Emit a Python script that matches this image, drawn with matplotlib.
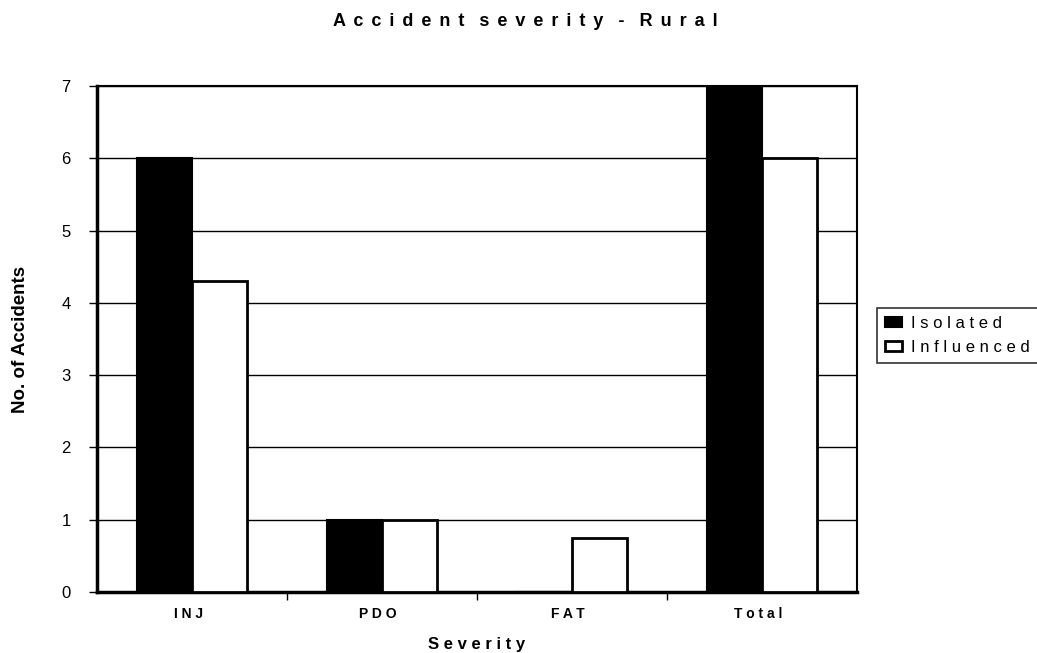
import numpy as np
import matplotlib
matplotlib.use('Agg')
from matplotlib import pyplot as plt


def spaced(text, gap=' ', word_gap='   '):
    # put a gap between letters, a wider one between words
    return word_gap.join(gap.join(word) for word in text.split(' '))


categories = ['INJ', 'PDO', 'FAT', 'Total']
isolated = [6, 1, 0, 7]
influenced = [4.3, 1, 0.75, 6]

plt.rcParams['font.family'] = ['Liberation Sans', 'DejaVu Sans']

fig = plt.figure(figsize=(10.37, 6.53), dpi=100)
ax = fig.add_axes([97 / 1037, 1 - 592 / 653, 760 / 1037, 506 / 653])

x = np.arange(len(categories))
w = 0.29
ax.bar(x - w / 2, isolated, w, color='black', edgecolor='black',
       linewidth=1.5, label=spaced('Isolated'), zorder=3)
ax.bar(x + w / 2, influenced, w, color='white', edgecolor='black',
       linewidth=2, label=spaced('Influenced'), zorder=3)

ax.set_xlim(-0.5, 3.5)
ax.set_ylim(0, 7)
ax.set_yticks(range(0, 8))
ax.yaxis.grid(True, color='black', linewidth=1.0, zorder=0)
ax.set_xticks(x)
# trailing spaces nudge the centred labels a little to the left
ax.set_xticklabels([spaced(c) + '  ' for c in categories], fontsize=10, fontweight='bold')
ax.tick_params(axis='x', length=0, pad=11)
ax.set_xticks([0.5, 1.5, 2.5], minor=True)
ax.tick_params(axis='x', which='minor', length=6, width=1, direction='out')
ax.tick_params(axis='y', length=6, width=1, direction='out', labelsize=12, pad=13)

for side in ['top', 'right']:
    ax.spines[side].set_linewidth(1.5)
ax.spines['left'].set_linewidth(2.5)
ax.spines['bottom'].set_linewidth(2.5)

ax.set_xlabel(spaced('Severity'), fontsize=12, fontweight='bold')
ax.xaxis.set_label_coords(0.5, -0.088)
ax.set_ylabel('No. of Accidents', fontsize=13.5, fontweight='bold')
ax.yaxis.set_label_coords(-0.089, 0.5)

fig.text(525 / 1037, 1 - 21 / 653,
         spaced('Accident severity - Rural', gap=' \u2006', word_gap='   '),
         ha='center', va='center', fontsize=13, fontweight='bold')

leg = fig.legend(loc='upper left', bbox_to_anchor=(877 / 1037, 1 - 308 / 653),
                 fontsize=12, frameon=True, fancybox=False, handlelength=1.0,
                 handleheight=0.55, handletextpad=0.55, borderpad=0.5,
                 labelspacing=0.5, borderaxespad=0)
leg.get_frame().set_edgecolor('black')
leg.get_frame().set_linewidth(1.2)

fig.savefig('out.png', dpi=100)
